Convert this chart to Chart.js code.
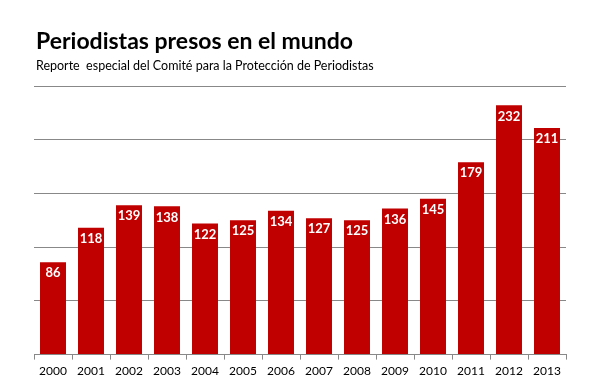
<!DOCTYPE html>
<html>
<head>
<meta charset="utf-8">
<script src="https://cdn.jsdelivr.net/npm/chart.js@4"></script>
<style>
html,body{margin:0;padding:0;background:#fff;}
#wrap{width:600px;height:391px;position:relative;}
</style>
</head>
<body>
<div id="wrap"><canvas id="c" width="600" height="391"></canvas></div>
<script>
const years = ["2000","2001","2002","2003","2004","2005","2006","2007","2008","2009","2010","2011","2012","2013"];
const presos = [86,118,139,138,122,125,134,127,125,136,145,179,232,211];
const titleText = "Periodistas presos en el mundo";
const subtitleText = "Reporte  especial del Comité para la Protección de Periodistas";

const FONT = "Lato, 'Open Sans', sans-serif";

const headerPlugin = {
  id: 'header',
  afterDraw(chart) {
    const ctx = chart.ctx;
    ctx.save();
    ctx.fillStyle = '#000';
    ctx.textBaseline = 'alphabetic';
    ctx.textAlign = 'left';
    ctx.font = "bold 23px " + FONT;
    ctx.fillText(titleText, 36, 49);
    ctx.font = "12.5px " + FONT;
    ctx.fillText(subtitleText, 36, 70);
    ctx.restore();
  }
};

const valuePlugin = {
  id: 'values',
  afterDatasetsDraw(chart) {
    const ctx = chart.ctx;
    const meta = chart.getDatasetMeta(0);
    ctx.save();
    ctx.fillStyle = '#fff';
    ctx.font = "bold 13px " + FONT;
    ctx.textAlign = 'center';
    ctx.textBaseline = 'middle';
    meta.data.forEach((bar, i) => {
      ctx.fillText(String(presos[i]), bar.x, bar.y + 11);
    });
    ctx.restore();
  }
};

new Chart(document.getElementById('c'), {
  type: 'bar',
  data: {
    labels: years,
    datasets: [{
      data: presos,
      backgroundColor: '#C00000',
      borderWidth: 0,
      barPercentage: 0.684,
      categoryPercentage: 1.0
    }]
  },
  options: {
    responsive: false,
    animation: false,
    devicePixelRatio: 1,
    layout: { padding: { top: 86, left: 34, right: 34, bottom: 9 } },
    plugins: { legend: { display: false }, tooltip: { enabled: false }, title: { display: false } },
    scales: {
      x: {
        grid: { display: true, drawOnChartArea: false, drawTicks: true, tickLength: 5, color: '#888', offset: true },
        border: { display: true, color: '#888', width: 1 },
        ticks: { color: '#000', font: { family: FONT, size: 12 }, padding: 4, maxRotation: 0 }
      },
      y: {
        min: 0, max: 250,
        ticks: { display: false, stepSize: 50 },
        grid: { color: '#888', lineWidth: 1, drawTicks: false },
        border: { display: false }
      }
    }
  },
  plugins: [headerPlugin, valuePlugin]
});
</script>
</body>
</html>
